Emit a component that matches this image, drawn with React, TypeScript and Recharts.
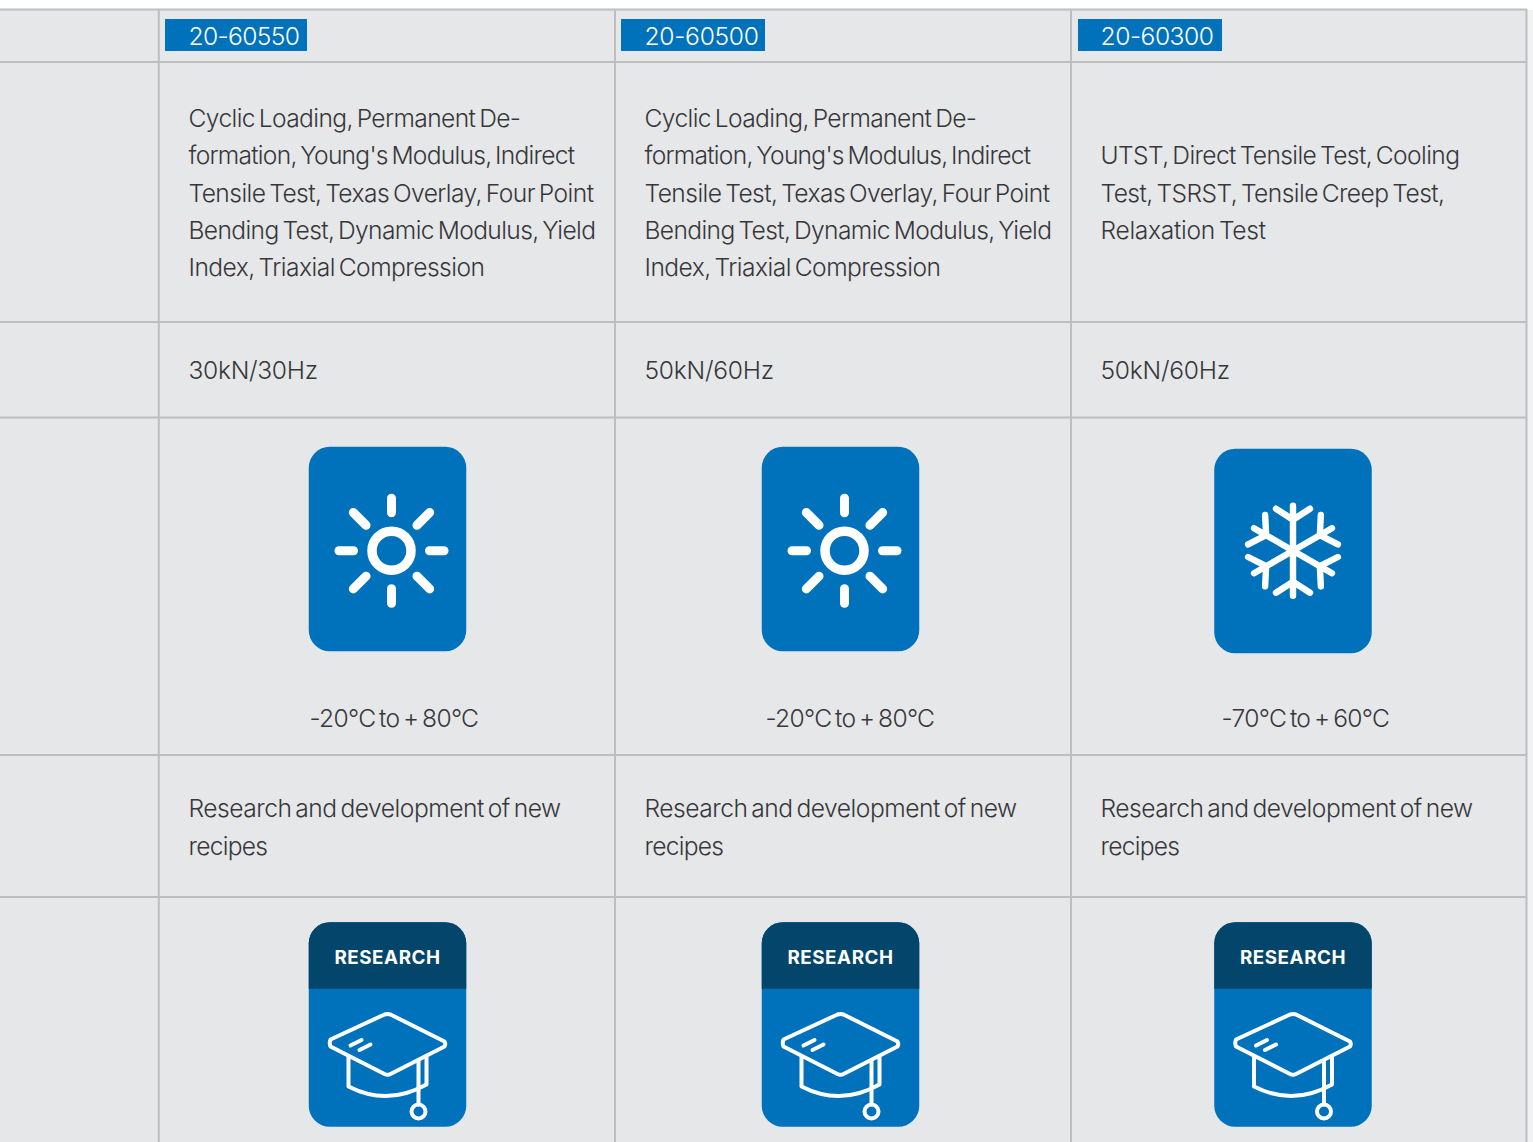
import React from "react";
import { ScatterChart, Scatter, XAxis, YAxis, ReferenceLine, ReferenceArea } from "recharts";

const models = ["20-60550", "20-60500", "20-60300"];
const testsA = ["Cyclic Loading, Permanent De-", "formation, Young's Modulus, Indirect", "Tensile Test, Texas Overlay, Four Point", "Bending Test, Dynamic Modulus, Yield", "Index, Triaxial Compression"];
const testsB = ["UTST, Direct Tensile Test, Cooling", "Test, TSRST, Tensile Creep Test,", "Relaxation Test"];
const capacities = ["30kN/30Hz", "50kN/60Hz", "50kN/60Hz"];
const temperatures = ["-20°C to + 80°C", "-20°C to + 80°C", "-70°C to + 60°C"];
const climateIcons = ["sun", "sun", "snow"];
const useLines = ["Research and development of new", "recipes"];
const badge = "RESEARCH";

const W = 1533, H = 1142;
const BG = "#e6e7e9", LINE = "#bcbec0", BLUE = "#0072bc", DARK = "#04466b", INK = "#37373a";
const FONT = "Inter, sans-serif";
const colText = [188.5, 644.5, 1100.5];
const colCard = [387.5, 840.5, 1293];
const hLines = [9.5, 62, 322, 417.5, 755, 897];
const vLines = [158.8, 615, 1071, 1526.5];
const tagBoxes = [[165, 307], [621, 765], [1078, 1222]];
const lineWidths: Record<string, number> = {
  "20-60550": 111, "20-60500": 114, "20-60300": 113,
  "Cyclic Loading, Permanent De-": 332,
  "formation, Young's Modulus, Indirect": 386,
  "Tensile Test, Texas Overlay, Four Point": 405,
  "Bending Test, Dynamic Modulus, Yield": 407,
  "Index, Triaxial Compression": 296,
  "UTST, Direct Tensile Test, Cooling": 359,
  "Test, TSRST, Tensile Creep Test,": 344,
  "Relaxation Test": 165,
  "30kN/30Hz": 129, "50kN/60Hz": 129,
  "-20°C to + 80°C": 169, "-70°C to + 60°C": 168,
  "Research and development of new": 372,
  "recipes": 79,
};

type T = { x: number; y: number; text: string };
const textRows: T[] = [];
models.forEach((t, i) => textRows.push({ x: colText[i], y: 45, text: t }));
[0, 1].forEach((c) => testsA.forEach((t, i) => textRows.push({ x: colText[c], y: [127, 164, 202, 239, 276][i], text: t })));
testsB.forEach((t, i) => textRows.push({ x: colText[2], y: [164, 202, 239][i], text: t }));
capacities.forEach((t, i) => textRows.push({ x: colText[i], y: 379, text: t }));
temperatures.forEach((t, i) => textRows.push({ x: colText[i] + 121, y: 727, text: t }));
[0, 1, 2].forEach((c) => useLines.forEach((t, i) => textRows.push({ x: colText[c], y: [817, 855][i], text: t })));

const climate = climateIcons.map((kind, i) => ({ x: colCard[i], y: i === 2 ? 551 : 549, kind }));
const research = colCard.map((x) => ({ x, y: 1024.5, text: badge }));

const TextShape = (p: any) => {
  const isTag = p.payload.y === 45;
  return (
    <text x={p.cx} y={p.cy} fontFamily={FONT} fontWeight={300} fontSize={24.6} letterSpacing={-0.5} wordSpacing={-2.5} textLength={lineWidths[p.payload.text]} lengthAdjust="spacing" fill={isTag ? "#ffffff" : INK}>
      {p.payload.text}
    </text>
  );
};

const W_CARD = 157.5, H_CARD = 204.5;

const ClimateShape = (p: any) => {
  const { cx, cy } = p;
  const kind = p.payload.kind;
  const sun = kind === "sun";
  const gx = cx + (sun ? 4 : 0), gy = cy + (sun ? 1.7 : -0.3);
  const rays = [0, 45, 90, 135, 180, 225, 270, 315];
  const arms = [0, 60, 120, 180, 240, 300];
  return (
    <g>
      <rect x={cx - W_CARD / 2} y={cy - H_CARD / 2} width={W_CARD} height={H_CARD} rx={21} fill={BLUE} />
      {sun ? (
        <g stroke="#fff" strokeLinecap="round" fill="none">
          <circle cx={gx} cy={gy} r={19.5} strokeWidth={9.5} />
          {rays.map((a) => (
            <line key={a} x1={gx} y1={gy - (a % 90 ? 36 : 38)} x2={gx} y2={gy - (a % 90 ? 54 : 52.5)} strokeWidth={9} transform={`rotate(${a} ${gx} ${gy})`} />
          ))}
        </g>
      ) : (
        <g stroke="#fff" strokeLinecap="round" strokeLinejoin="round" fill="none" strokeWidth={6.4}>
          {arms.map((a) => (
            <g key={a} transform={`rotate(${a} ${gx} ${gy})`}>
              <line x1={gx} y1={gy} x2={gx} y2={gy - 45} />
              <polyline points={`${gx - 17},${gy - 42} ${gx},${gy - 31} ${gx + 17},${gy - 42}`} />
            </g>
          ))}
        </g>
      )}
    </g>
  );
};

const ResearchShape = (p: any) => {
  const { cx, cy } = p;
  const l = cx - W_CARD / 2, t = cy - H_CARD / 2, r = l + W_CARD;
  const X = (v: number) => cx + v, Y = (v: number) => cy + v;
  return (
    <g>
      <rect x={l} y={t} width={W_CARD} height={H_CARD} rx={21} fill={BLUE} />
      <path d={`M${l} ${t + 66.5} V${t + 21} A21 21 0 0 1 ${l + 21} ${t} H${r - 21} A21 21 0 0 1 ${r} ${t + 21} V${t + 66.5} Z`} fill={DARK} />
      <text x={cx} y={t + 42} textAnchor="middle" fontFamily="Inter, sans-serif" fontWeight={700} fontSize={18.8} letterSpacing={0.55} fill="#fff">{p.payload.text}</text>
      <g stroke="#fff" strokeWidth={4} fill="none" strokeLinecap="round" strokeLinejoin="round">
        <path d={`M${X(-57)} ${Y(15)} L${X(-3)} ${Y(-10)} Q${X(0)} ${Y(-11)} ${X(3)} ${Y(-10)} L${X(57)} ${Y(17)} Q${X(58.5)} ${Y(19.5)} ${X(57)} ${Y(22)} L${X(3)} ${Y(49.5)} Q${X(0)} ${Y(51)} ${X(-3)} ${Y(49.5)} L${X(-57)} ${Y(22)} Q${X(-58.5)} ${Y(19)} ${X(-57)} ${Y(15)} Z`} />
        <path d={`M${X(-39)} ${Y(32)} V${Y(62)} Q${X(0)} ${Y(82)} ${X(39)} ${Y(60)} V${Y(33)}`} />
        <path d={`M${X(31)} ${Y(37)} V${Y(80)}`} />
        <circle cx={X(31)} cy={Y(87)} r={7} />
        <path d={`M${X(-37)} ${Y(21)} L${X(-26)} ${Y(15.5)}`} />
        <path d={`M${X(-28)} ${Y(25.5)} L${X(-17)} ${Y(20)}`} />
      </g>
    </g>
  );
};

export default function App() {
  return (
    <div style={{ position: "absolute", left: 0, top: 0, width: W, height: H, background: "#fff" }}>
      <ScatterChart width={W} height={H} margin={{ top: 0, right: 0, bottom: 0, left: 0 }}>
        <XAxis type="number" dataKey="x" domain={[0, W]} hide />
        <YAxis type="number" dataKey="y" domain={[0, H]} reversed hide />
        <ReferenceArea x1={0} x2={1527} y1={9} y2={H} fill={BG} fillOpacity={1} stroke="none" />
        <ReferenceArea x1={1527} x2={W} y1={10} y2={H} fill="#f1f2f2" fillOpacity={1} stroke="none" />
        {tagBoxes.map(([a, b]) => (
          <ReferenceArea key={a} x1={a} x2={b} y1={19} y2={51} fill={BLUE} fillOpacity={1} stroke="none" />
        ))}
        {hLines.map((y) => (
          <ReferenceLine key={y} stroke={LINE} strokeWidth={2} segment={[{ x: 0, y }, { x: 1527, y }]} />
        ))}
        {vLines.map((x) => (
          <ReferenceLine key={x} stroke={LINE} strokeWidth={2} segment={[{ x, y: 9 }, { x, y: H }]} />
        ))}
        <Scatter data={textRows} isAnimationActive={false} shape={TextShape} />
        <Scatter data={climate} isAnimationActive={false} shape={ClimateShape} />
        <Scatter data={research} isAnimationActive={false} shape={ResearchShape} />
      </ScatterChart>
    </div>
  );
}
